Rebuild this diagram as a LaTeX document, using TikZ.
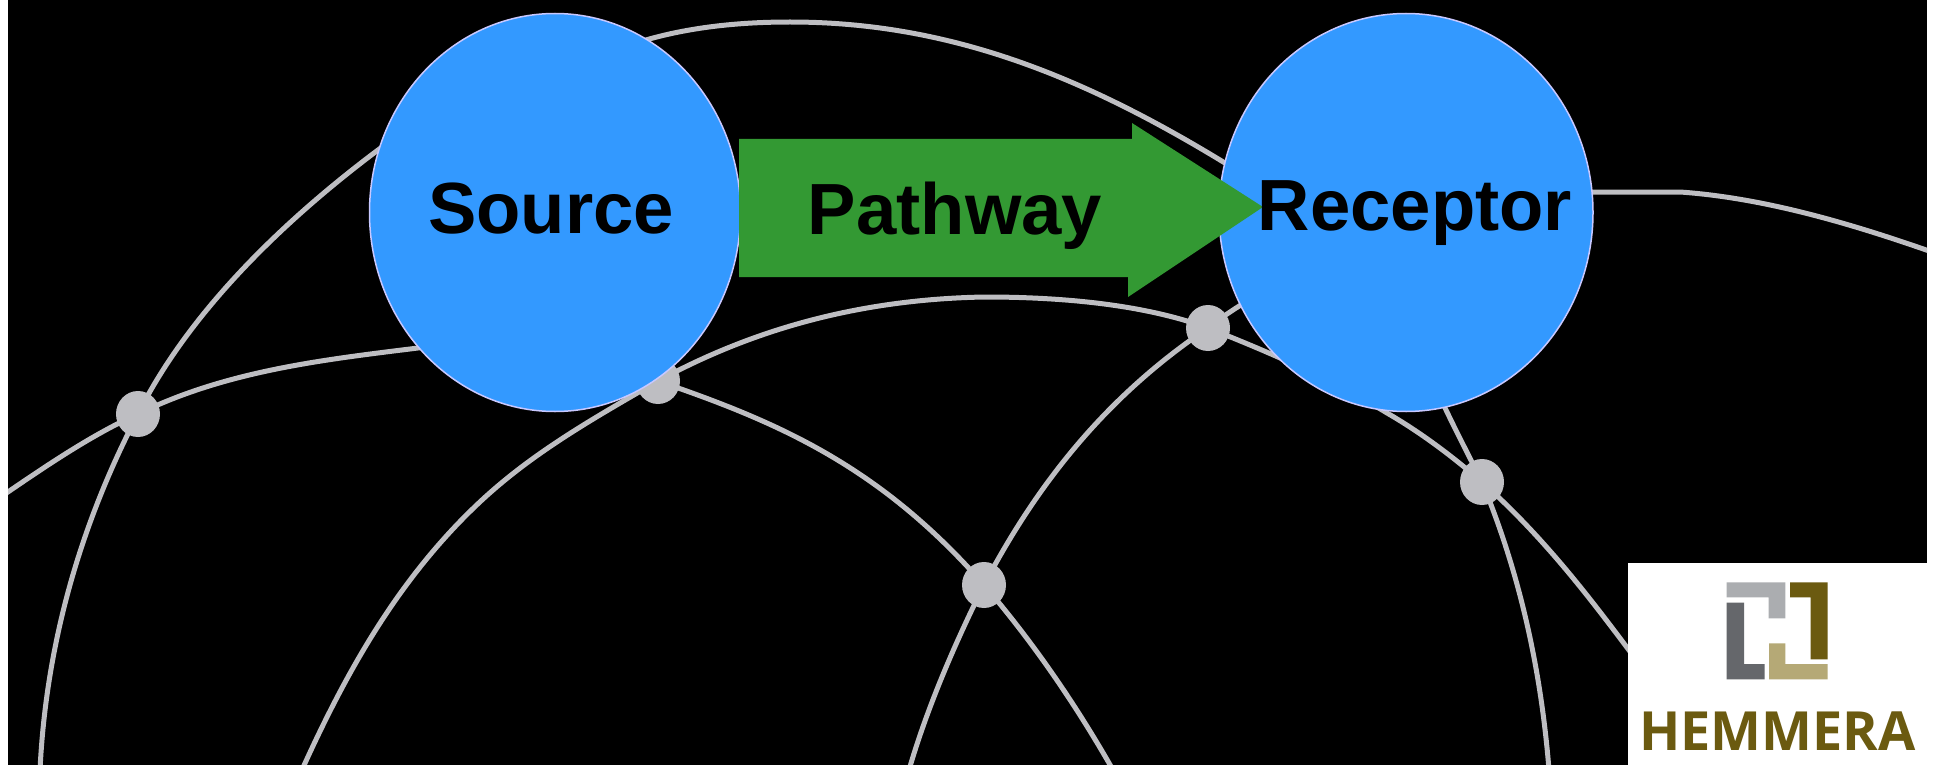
\documentclass[tikz,border=0pt]{standalone}
\usepackage{fontspec}
\setmainfont{Liberation Sans}
\newfontfamily\logofont{Open Sans}
\usetikzlibrary{shapes.geometric}
\definecolor{bluefill}{HTML}{3399FF}
\definecolor{blueedge}{HTML}{C8C8FF}
\definecolor{greenfill}{HTML}{339933}
\definecolor{netgray}{HTML}{BEBEC2}
\definecolor{olive}{HTML}{6B5A10}
\definecolor{tan}{HTML}{B5A976}
\definecolor{lightgr}{HTML}{ABADB0}
\definecolor{darkgr}{HTML}{65676B}
\tikzset{
  net/.style={draw=netgray,line width=5pt},
  dot/.style={ellipse,fill=netgray,draw=none,minimum width=44pt,minimum height=46pt,inner sep=0pt,outer sep=0pt},
  disc/.style={ellipse,fill=bluefill,draw=blueedge,line width=1.5pt,inner sep=0pt},
  lab/.style={font=\fontsize{72.5}{72.5}\selectfont\bfseries,text=black,anchor=base,inner sep=0pt},
}
\begin{document}
\begin{tikzpicture}[x=1pt,y=-1pt]
\useasboundingbox (0,0) rectangle (1935,765);
\fill[white] (0,0) rectangle (1935,765);
\fill[black] (8,0) rectangle (1927,765);
\begin{scope}
\clip (8,0) rectangle (1927,765);
\node[dot] (d1) at (138,414) {};
\node[dot] (d2) at (658,381) {};
\node[dot] (d3) at (1208,328) {};
\node[dot] (d4) at (1482,482) {};
\node[dot] (d5) at (984,585) {};
\coordinate (a0) at (40,770);
\coordinate (a1) at (378,150);
\coordinate (a2) at (653,38);
\coordinate (a3) at (790,22);
\coordinate (a4) at (1220,160);
\coordinate (a5) at (1447,412);
\coordinate (a9) at (1549,770);
\coordinate (b0) at (5,494);
\coordinate (b1) at (418,348);
\coordinate (b9) at (1113,770);
\coordinate (c0) at (301,772);
\coordinate (c1) at (482,500);
\coordinate (c2) at (985,297);
\coordinate (c3) at (1387,413);
\coordinate (c9) at (1640,665);
\coordinate (e0) at (909,770);
\coordinate (e1) at (1595,192);
\coordinate (e2) at (1680,192);
\coordinate (e9) at (1932,252);
\draw[net] (a0) .. controls (46,645) and (80,525) .. (d1.center)
  .. controls (190,310) and (286,219) .. (a1)
  .. controls (458,90) and (557,65) .. (a2)
  .. controls (698,26) and (745,22) .. (a3)
  .. controls (950,22) and (1083,77) .. (a4)
  .. controls (1321,221) and (1396,306) .. (a5)
  .. controls (1458,435) and (1470,458) .. (d4.center)
  .. controls (1520,574) and (1541,670) .. (a9);
\draw[net] (b0) .. controls (46,466) and (93,434) .. (d1.center)
  .. controls (226,371) and (321,360) .. (b1)
  .. controls (498,338) and (586,349) .. (d2.center)
  .. controls (778,422) and (880,466) .. (d5.center)
  .. controls (1033,642) and (1076,705) .. (b9);
\draw[net] (c0) .. controls (347,670) and (400,576) .. (c1)
  .. controls (535,451) and (596,417) .. (d2.center)
  .. controls (759,326) and (867,299) .. (c2)
  .. controls (1060,297) and (1143,304) .. (d3.center)
  .. controls (1269,352) and (1331,379) .. (c3)
  .. controls (1420,432) and (1452,456) .. (d4.center)
  .. controls (1548,541) and (1596,606) .. (c9);
\draw[net] (e0) .. controls (927,708) and (955,643) .. (d5.center)
  .. controls (1038,482) and (1108,395) .. (d3.center)
  .. controls (1298,256) and (1500,192) .. (e1)
  -- (e2)
  .. controls (1765,198) and (1852,224) .. (e9);
\end{scope}
\node[disc,minimum width=371pt,minimum height=398pt] (src) at (555,212.5) {};
\node[disc,minimum width=374pt,minimum height=398pt] (rec) at (1406,212.5) {};
\coordinate (t) at (1263,207);
\fill[greenfill] (739,139) -- (1132,139) -- (1132,123) -- (t) -- (1128,297) -- (1128,277) -- (739,277) -- cycle;
\node[lab] (s) at (551,233) {Source};
\node[lab] (p) at (955,234) {Pathway};
\node[lab] (r) at (1415,230) {Receptor};
\fill[white] (1628,563) rectangle (1935,765);
\fill[lightgr] (1726.7,582.3) -| (1785.3,618.3) -| (1768.7,597.3) -| cycle;
\fill[darkgr] (1726.7,602.7) -| (1744,664) -| (1764.7,679.3) -| cycle;
\fill[olive] (1790,582.3) -| (1827.7,659.3) -| (1810.7,597.3) -| cycle;
\fill[tan] (1769,643.3) -| (1785.3,664) -| (1827.7,679.3) -| cycle;
\node[font=\logofont\bfseries\fontsize{54}{54}\selectfont,text=olive,anchor=base,inner sep=0pt] (h) at (1777.5,750) {HEMMERA};
\end{tikzpicture}
\end{document}
